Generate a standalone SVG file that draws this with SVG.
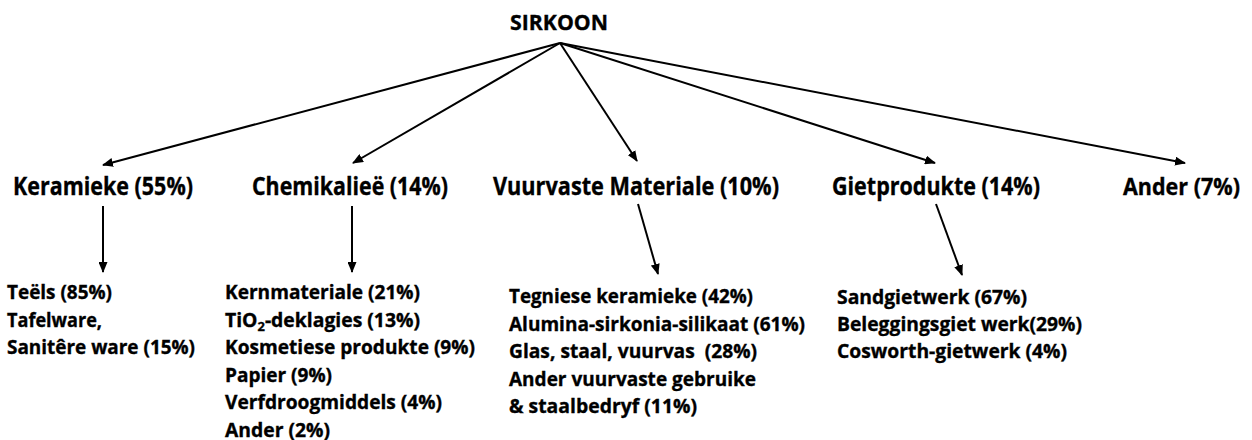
<svg xmlns="http://www.w3.org/2000/svg" width="1252" height="440" viewBox="0 0 1252 440">
<defs>
<marker id="ah" markerUnits="userSpaceOnUse" markerWidth="11" markerHeight="9" refX="10" refY="4.5" orient="auto">
<path d="M0,0 L11,4.5 L0,9 z" fill="#000"/>
</marker>
<style>
text{font-family:"Open Sans","Liberation Sans",sans-serif;font-weight:700;fill:#000;stroke:#000;stroke-width:0.35px}
.t0{font-size:21px}
.t1{font-size:24.5px}
.t2{font-size:19.5px}
.c{stroke:#000;stroke-width:2;fill:none;marker-end:url(#ah)}
</style>
</defs>
<rect width="1252" height="440" fill="#fff"/>
<g id="connectors">
<line class="c" x1="560" y1="43" x2="103" y2="165"/>
<line class="c" x1="560" y1="43" x2="353" y2="163"/>
<line class="c" x1="560" y1="43" x2="637" y2="161"/>
<line class="c" x1="560" y1="43" x2="935" y2="163"/>
<line class="c" x1="560" y1="43" x2="1185" y2="163"/>
<line class="c" x1="103" y1="206" x2="103" y2="272"/>
<line class="c" x1="352" y1="206" x2="352" y2="272"/>
<line class="c" x1="638" y1="204" x2="658" y2="274"/>
<line class="c" x1="936" y1="204" x2="962" y2="275"/>
</g>
<g id="root"><text class="t0" x="510" y="30" textLength="98" lengthAdjust="spacingAndGlyphs">SIRKOON</text></g>
<g id="keramieke"><text class="t1" x="13" y="195" textLength="180" lengthAdjust="spacingAndGlyphs">Keramieke (55%)</text></g>
<g id="chemikalie"><text class="t1" x="252" y="195" textLength="196" lengthAdjust="spacingAndGlyphs">Chemikalieë (14%)</text></g>
<g id="vuurvaste"><text class="t1" x="493" y="195" textLength="286" lengthAdjust="spacingAndGlyphs">Vuurvaste Materiale (10%)</text></g>
<g id="gietprodukte"><text class="t1" x="832" y="195" textLength="208" lengthAdjust="spacingAndGlyphs">Gietprodukte (14%)</text></g>
<g id="ander"><text class="t1" x="1123" y="195" font-size="23px" style="font-size:23px" textLength="117" lengthAdjust="spacingAndGlyphs">Ander (7%)</text></g>
<g id="keramieke-list">
<text class="t2" x="7" y="299" textLength="105" lengthAdjust="spacingAndGlyphs">Teëls (85%)</text>
<text class="t2" x="7" y="326.5" textLength="95" lengthAdjust="spacingAndGlyphs">Tafelware,</text>
<text class="t2" x="7" y="354" textLength="188" lengthAdjust="spacingAndGlyphs">Sanitêre ware (15%)</text>
</g>
<g id="chemikalie-list">
<text class="t2" x="225" y="299" textLength="195" lengthAdjust="spacingAndGlyphs">Kernmateriale (21%)</text>
<text class="t2" x="225" y="326.5" textLength="195" lengthAdjust="spacingAndGlyphs">TiO<tspan font-size="13" dy="4">2</tspan><tspan dy="-4">-deklagies (13%)</tspan></text>
<text class="t2" x="225" y="354" textLength="250" lengthAdjust="spacingAndGlyphs">Kosmetiese produkte (9%)</text>
<text class="t2" x="225" y="381.5" textLength="107" lengthAdjust="spacingAndGlyphs">Papier (9%)</text>
<text class="t2" x="225" y="409" textLength="217" lengthAdjust="spacingAndGlyphs">Verfdroogmiddels (4%)</text>
<text class="t2" x="225" y="436.5" textLength="105" lengthAdjust="spacingAndGlyphs">Ander (2%)</text>
</g>
<g id="vuurvaste-list">
<text class="t2" x="509" y="303" textLength="244" lengthAdjust="spacingAndGlyphs">Tegniese keramieke (42%)</text>
<text class="t2" x="509" y="330.5" textLength="296" lengthAdjust="spacingAndGlyphs">Alumina-sirkonia-silikaat (61%)</text>
<text class="t2" x="509" y="358" textLength="248" lengthAdjust="spacingAndGlyphs" xml:space="preserve">Glas, staal, vuurvas  (28%)</text>
<text class="t2" x="509" y="385.5" textLength="247" lengthAdjust="spacingAndGlyphs">Ander vuurvaste gebruike</text>
<text class="t2" x="509" y="413" textLength="188" lengthAdjust="spacingAndGlyphs">&amp; staalbedryf (11%)</text>
</g>
<g id="giet-list">
<text class="t2" x="837" y="304" textLength="190" lengthAdjust="spacingAndGlyphs">Sandgietwerk (67%)</text>
<text class="t2" x="837" y="331" textLength="245" lengthAdjust="spacingAndGlyphs">Beleggingsgiet werk(29%)</text>
<text class="t2" x="837" y="358" textLength="230" lengthAdjust="spacingAndGlyphs">Cosworth-gietwerk (4%)</text>
</g>
</svg>
